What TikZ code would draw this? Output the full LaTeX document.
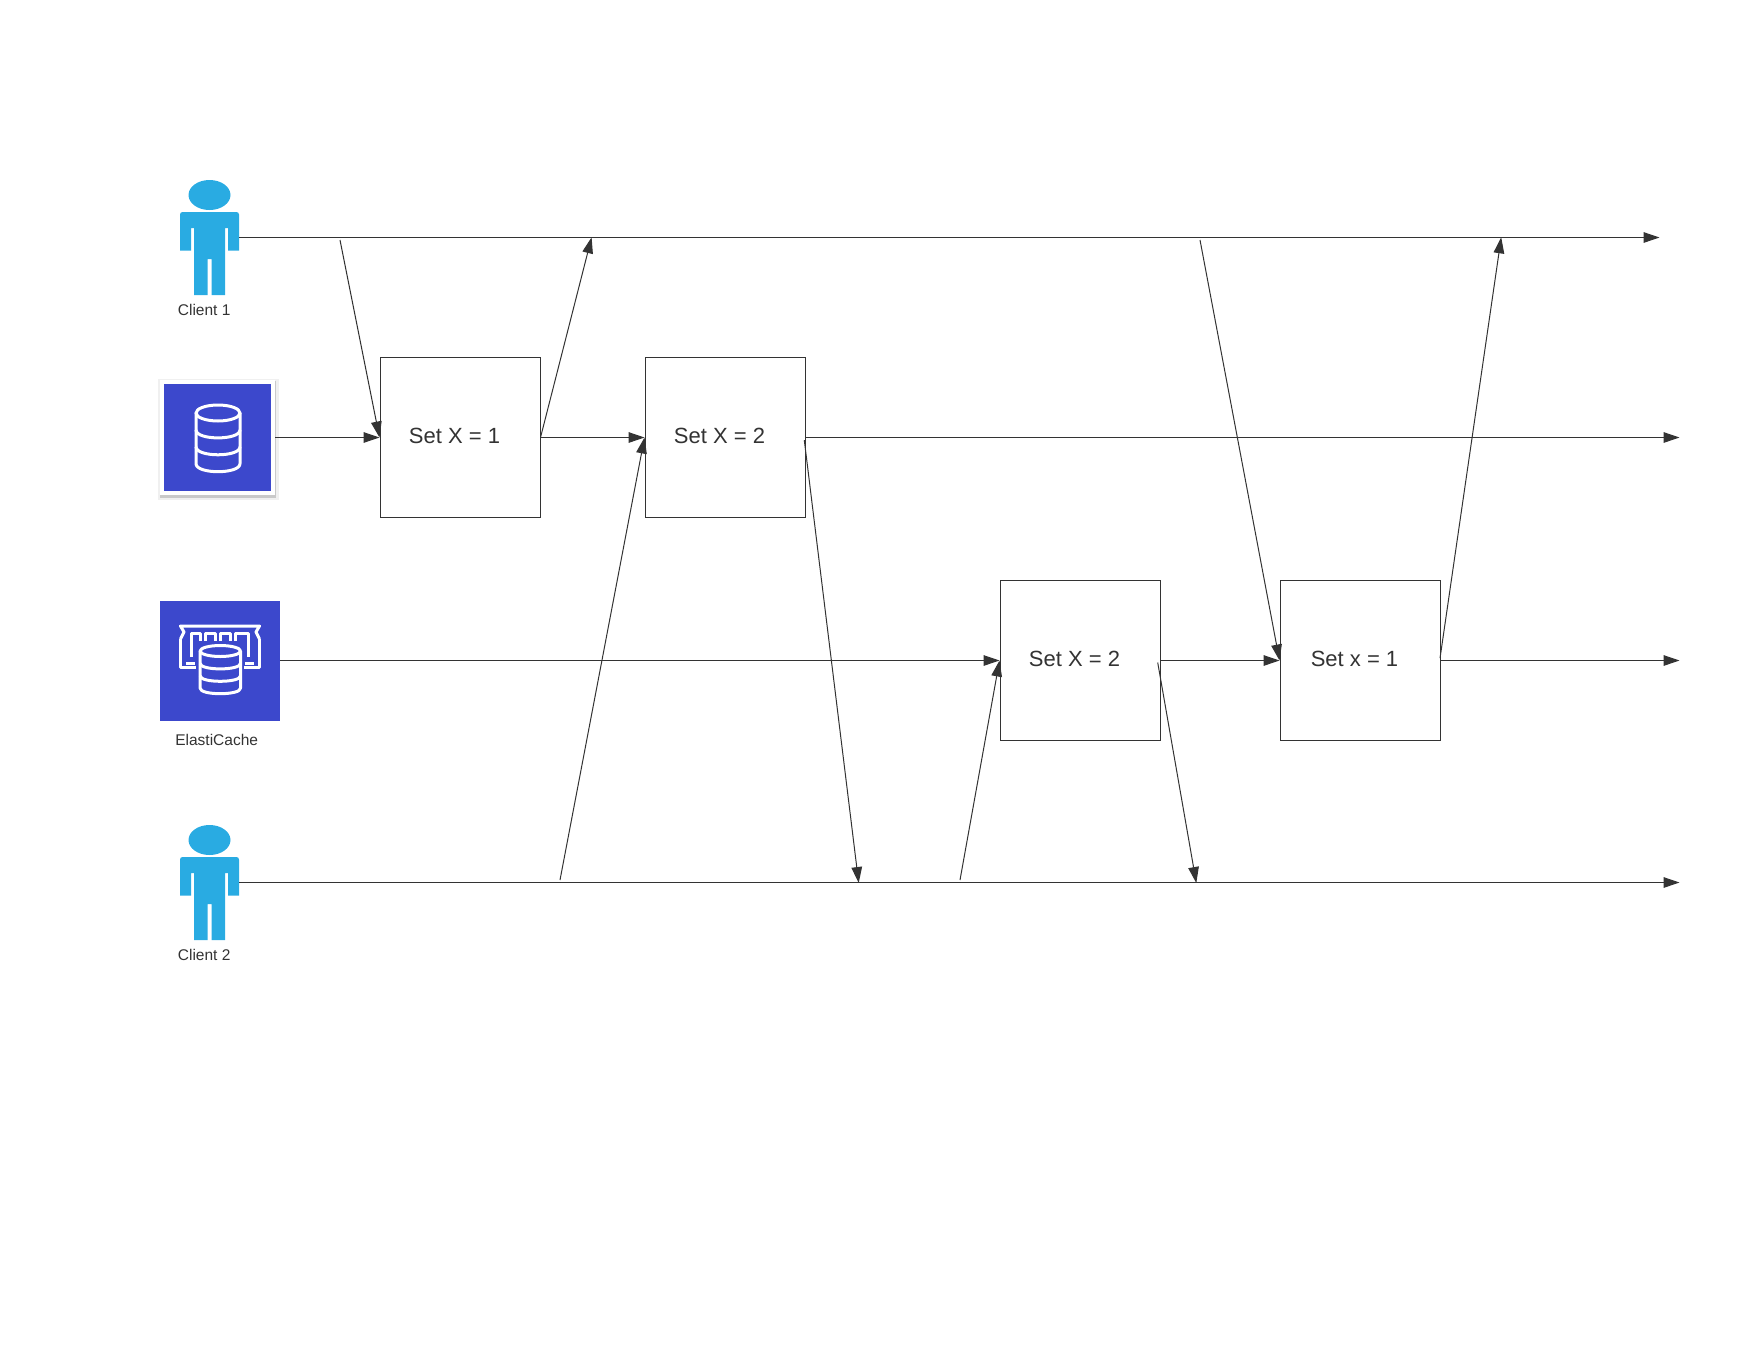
\documentclass[tikz,border=0pt]{standalone}
\usepackage{fontspec}
\setmainfont{Liberation Sans}
\usepackage{tikz}
\usetikzlibrary{arrows.meta, positioning, shadows}

% cylinder of the database icons: centre x, centre y of the lid, x radius, y radius, band step
\newcommand{\dbcylinder}[5]{
    \draw[iconline, fill=iconblue] (#1-#3,#2) -- (#1-#3,#2+3*#5) .. controls (#1-#3,#2+3*#5+1.33*#4) and (#1+#3,#2+3*#5+1.33*#4) .. (#1+#3,#2+3*#5) -- (#1+#3,#2) -- cycle;
    \draw[iconline, fill=iconblue] (#1,#2) ellipse [x radius=#3, y radius=#4];
    \draw[iconline] (#1-#3,#2+#5) .. controls (#1-#3,#2+#5+1.33*#4) and (#1+#3,#2+#5+1.33*#4) .. (#1+#3,#2+#5);
    \draw[iconline] (#1-#3,#2+2*#5) .. controls (#1-#3,#2+2*#5+1.33*#4) and (#1+#3,#2+2*#5+1.33*#4) .. (#1+#3,#2+2*#5);
}

\begin{document}
\begin{tikzpicture}[
    x=1pt, y=-1pt,
    >={Triangle[length=16pt, width=10.6pt]},
    usericon/.style={minimum width=59pt, minimum height=115pt, inner sep=0pt, outer sep=0pt},
    personicon/.pic={
        \fill[personblue] (0,-42.5) ellipse [x radius=21, y radius=15];
        \fill[personblue] (-29.5,13) [rounded corners=2.5pt] -- (-29.5,-25.5) -- (29.5,-25.5) -- (29.5,-15) [sharp corners] -- (29.5,13) -- (18.5,13) -- (18.5,-9.5) -- (15.5,-9.5) -- (15.5,57.5) -- (2,57.5) -- (2,21.5) -- (-2,21.5) -- (-2,57.5) -- (-15.5,57.5) -- (-15.5,-9.5) -- (-18.5,-9.5) -- (-18.5,13) -- cycle;
    },
    iconline/.style={draw=white, line width=3pt, line join=round},
    dbframe/.style={rectangle, fill=iconblue, draw=white, line width=4pt, minimum size=111pt, inner sep=0pt,
        general shadow={fill=black, opacity=.06, shadow scale=1.09, shadow xshift=0.5pt, shadow yshift=-1.5pt},
        general shadow={fill=black, opacity=.16, shadow scale=1.05, shadow xshift=0.5pt, shadow yshift=-2pt}},
    cachebox/.style={rectangle, fill=iconblue, minimum size=120pt, inner sep=0pt, outer sep=0pt},
    iconlabel/.style={font=\fontsize{15.5}{18}\selectfont, text=linecolor, inner sep=0pt},
    setbox/.style={rectangle, draw=linecolor, line width=1pt, minimum size=160pt, inner sep=0pt, outer sep=1pt, text=linecolor, text depth=2.5pt, font=\fontsize{22}{26}\selectfont, execute at end node=\hspace{12pt}},
    arrow/.style={->, draw=linecolor, line width=1pt}]

    % Define colors
    \definecolor{linecolor}{RGB}{51,51,51}
    \definecolor{personblue}{RGB}{41,171,226}
    \definecolor{iconblue}{RGB}{60,72,204}

    \useasboundingbox (0,0) rectangle (1760,1360);

    % Icons
    \node[usericon] (clientone) at (209.5,237.5) {};
    \pic at (clientone.center) {personicon};
    \node[dbframe] (database) at (217.5,437.5) {};
    \dbcylinder{218}{413}{22}{8}{16.9}
    \node[cachebox] (elasticache) at (220,660.5) {};
    \draw[iconline] (180.5,639) -- (180.5,667) -- (196,667) (186,663) -- (195,663);
    \draw[iconline] (259.5,639) -- (259.5,667) -- (244,667) (254,663) -- (245,663);
    \draw[iconline] (180.5,639) -- (184,632) -- (180.5,626) -- (259.5,626) -- (256,632) -- (259.5,639);
    \draw[iconline] (191.7,657) -- (191.7,633.3) -- (200,633.3) -- (200,641);
    \draw[iconline] (205,641) -- (205,633.3) -- (215,633.3) -- (215,641);
    \draw[iconline] (220,641) -- (220,633.3) -- (230,633.3) -- (230,641);
    \draw[iconline] (235,641) -- (235,633.3) -- (248.3,633.3) -- (248.3,657);
    \dbcylinder{220.3}{651}{20.2}{5.5}{12.4}
    \node[usericon] (clienttwo) at (209.5,882.5) {};
    \pic at (clienttwo.center) {personicon};

    % Labels
    \node[iconlabel, below=9pt of clientone, xshift=-5.3pt] (clientonelabel) {Client 1};
    \node[iconlabel, below=14pt of elasticache, xshift=-3.3pt] (elasticachelabel) {ElastiCache};
    \node[iconlabel, below=9pt of clienttwo, xshift=-5.3pt] (clienttwolabel) {Client 2};

    % Nodes
    \node[setbox] (setone) at (460.5,437.5) {Set X = 1};
    \node[setbox, right=103pt of setone] (settwo) {Set X = 2};
    \node[setbox] (setthree) at (1080.5,660.5) {Set X = 2};
    \node[setbox, right=118pt of setthree] (setfour) {Set x = 1};

    % Free ends on the timelines
    \coordinate (oneend) at (1659.5,237.5);
    \coordinate (dbend) at (1679.5,437.5);
    \coordinate (cacheend) at (1679.5,660.5);
    \coordinate (twoend) at (1679.5,882.5);
    \coordinate (sendone) at (340,240);
    \coordinate (ackone) at (591.6,237.3);
    \coordinate (sendtwo) at (560,880);
    \coordinate (acktwo) at (858.7,883);
    \coordinate (sendthree) at (960,880);
    \coordinate (ackthree) at (1196.3,883);
    \coordinate (sendfour) at (1200,240);
    \coordinate (ackfour) at (1501.2,237.3);

    % Timelines
    \draw[arrow] (clientone.east |- oneend) -- (oneend);
    \draw[arrow] (database.east) -- (setone.west);
    \draw[arrow] ([xshift=-1pt]setone.east) -- (settwo.west);
    \draw[arrow] ([xshift=-1pt]settwo.east) -- (dbend);
    \draw[arrow] (elasticache.east) -- (setthree.west);
    \draw[arrow] ([xshift=-1pt]setthree.east) -- (setfour.west);
    \draw[arrow] ([xshift=-1pt]setfour.east) -- (cacheend);
    \draw[arrow] (clienttwo.east |- twoend) -- (twoend);

    % Writes and replies
    \draw[arrow] (sendone) -- (setone.west);
    \draw[arrow] ([xshift=-1pt]setone.east) -- (ackone);
    \draw[arrow] (sendtwo) -- (settwo.west);
    \draw[arrow] ([xshift=-2.2pt, yshift=-2.7pt]settwo.east) -- (acktwo);
    \draw[arrow] (sendthree) -- (setthree.west);
    \draw[arrow] ([xshift=-3.8pt, yshift=-2pt]setthree.east) -- (ackthree);
    \draw[arrow] (sendfour) -- (setfour.west);
    \draw[arrow] ([xshift=-1.5pt, yshift=2.3pt]setfour.east) -- (ackfour);

\end{tikzpicture}
\end{document}
